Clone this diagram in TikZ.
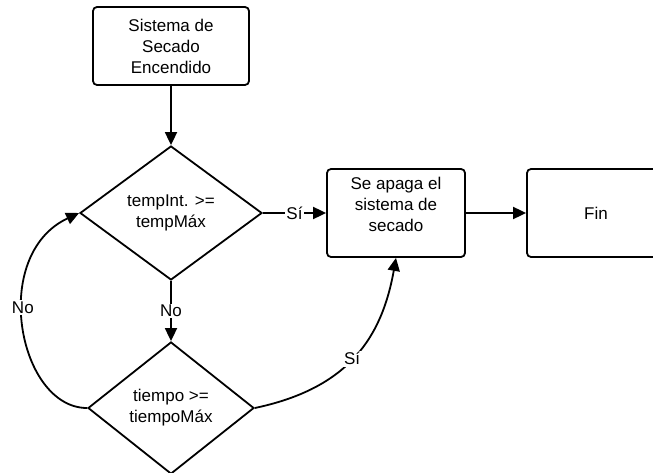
\documentclass[tikz,border=0pt]{standalone}
\usepackage{fontspec}
\setmainfont{Liberation Sans}
\usetikzlibrary{shapes.geometric,arrows.meta}

\tikzset{
	paso/.style={draw,rounded corners=4pt,align=center,inner sep=2pt,minimum height=88pt},
	decision/.style={draw,diamond,align=center,inner sep=0pt},
	etiqueta/.style={fill=white,inner sep=1.5pt},
}

\begin{document}
\begin{tikzpicture}[x=1pt,y=-1pt,line width=1.8pt,>={Triangle[length=13pt,width=12pt]},font=\fontsize{17}{21}\selectfont]
			\useasboundingbox (0,0) rectangle (653,473);
		
			\node[paso,minimum width=156pt,minimum height=78pt] (inicio) at (171,46) {Sistema de\\Secado\\Encendido};
			\node[decision,minimum width=182pt,minimum height=134pt] (temp) at (171,213) {tempInt. >=\\tempMáx};
			\node[decision,minimum width=166pt,minimum height=132pt] (tiempo) at (171,408) {tiempo >=\\tiempoMáx};
			\node[paso,minimum width=138pt,text depth=18pt] (apagar) at (396,213) {Se apaga el\\sistema de\\secado};
			\node[paso,minimum width=138pt] (fin) at (596,213) {Fin};
		
			\path[draw,->] (inicio) edge (temp);
			\path[draw,->] (temp) edge node[etiqueta] {Sí} (apagar);
			\path[draw,->] (temp) edge node[etiqueta] {No} (tiempo);
			\path[draw,->] (apagar) edge (fin);
		
			\draw[->] (tiempo.west) to[out=180,in=-155,out looseness=0.9,in looseness=1.3] node[etiqueta,pos=0.57] {No} (temp.west);
			
			\draw[->] (tiempo.east) to[out=12,in=-100,looseness=1.1] node[etiqueta] {Sí} (apagar.south);
		\end{tikzpicture}
\end{document}
